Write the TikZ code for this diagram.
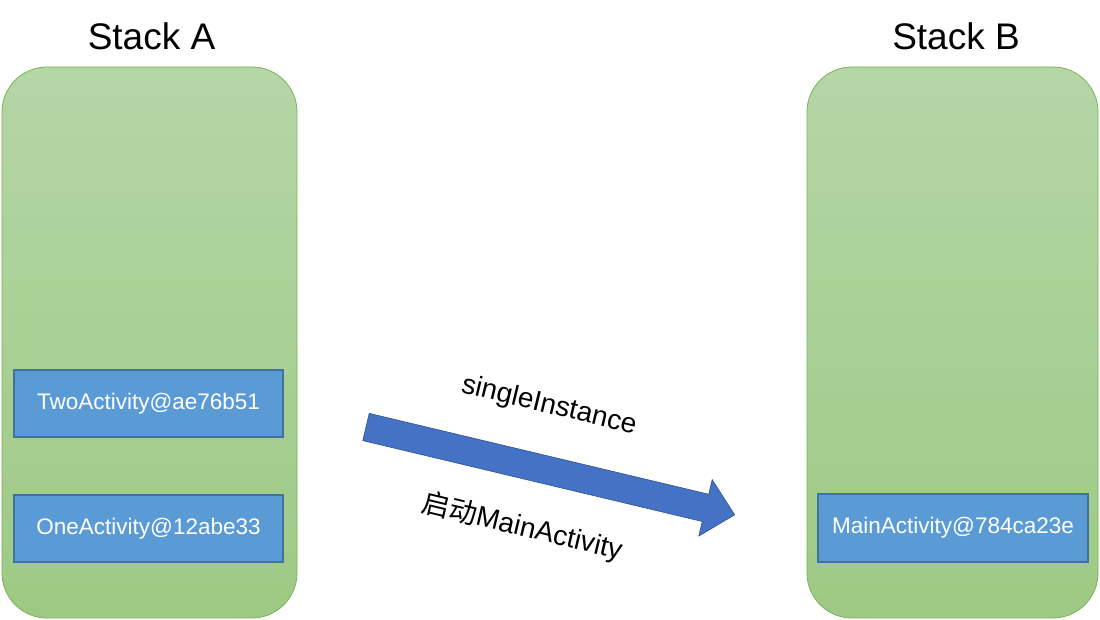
\documentclass[tikz,border=0pt]{standalone}
\usepackage{fontspec}
\setmainfont{Liberation Sans}
\newfontfamily\cjk{Noto Sans CJK SC}
\definecolor{stacktop}{HTML}{B5D6A7}
\definecolor{stackbot}{HTML}{9DC984}
\definecolor{stackline}{HTML}{7AB356}
\definecolor{actfill}{HTML}{5B9BD5}
\definecolor{actline}{HTML}{41719C}
\definecolor{arrfill}{HTML}{4472C4}
\definecolor{arrline}{HTML}{2F528F}
\begin{document}
\begin{tikzpicture}[x=1pt,y=1pt,
  stackbox/.style={rectangle, rounded corners=45pt, draw=stackline, line width=0.8pt,
    top color=stacktop, bottom color=stackbot, minimum height=551pt, inner sep=0pt},
  actbox/.style={rectangle, draw=actline, line width=1.5pt, fill=actfill, text=white,
    minimum width=269pt, minimum height=67pt, inner sep=0pt,
    font=\fontsize{22.5}{25}\selectfont},
  titletext/.style={anchor=base, font=\fontsize{37}{40}\selectfont},
  arrowlabel/.style={rotate=-13.5, font=\fontsize{28}{31}\selectfont}]
\useasboundingbox (0,0) rectangle (1100,620);
% stacks
\node[stackbox, minimum width=295pt] (stackA) at (149.5,277.5) {};
\node[stackbox, minimum width=291pt] (stackB) at (952.5,277.5) {};
% titles
\node[titletext] (titleA) at (151.5,570) {Stack A};
\node[titletext] (titleB) at (956,570) {Stack B};
% activities
\node[actbox] (two) at (148.5,216.5) {TwoActivity@ae76b51};
\node[actbox] (one) at (148.5,91.5) {OneActivity@12abe33};
\node[actbox, minimum width=270pt, minimum height=68pt] (main) at (953,92) {MainActivity@784ca23e};
% block arrow
\begin{scope}[shift={(366,193)}, rotate=-13.4]
  \coordinate (tail) at (0,0);
  \coordinate (tip) at (379,0);
  \draw[draw=arrline, line width=0.6pt, fill=arrfill]
    (0,14) -- (349,14) -- (349,29) -- (tip) -- (349,-29) -- (349,-14) -- (0,-14) -- cycle;
\end{scope}
% labels
\node[arrowlabel] (lab1) at (549,214) {singleInstance};
\node[arrowlabel] (lab2) at (522,93) {{\cjk 启动}MainActivity};
\end{tikzpicture}
\end{document}
